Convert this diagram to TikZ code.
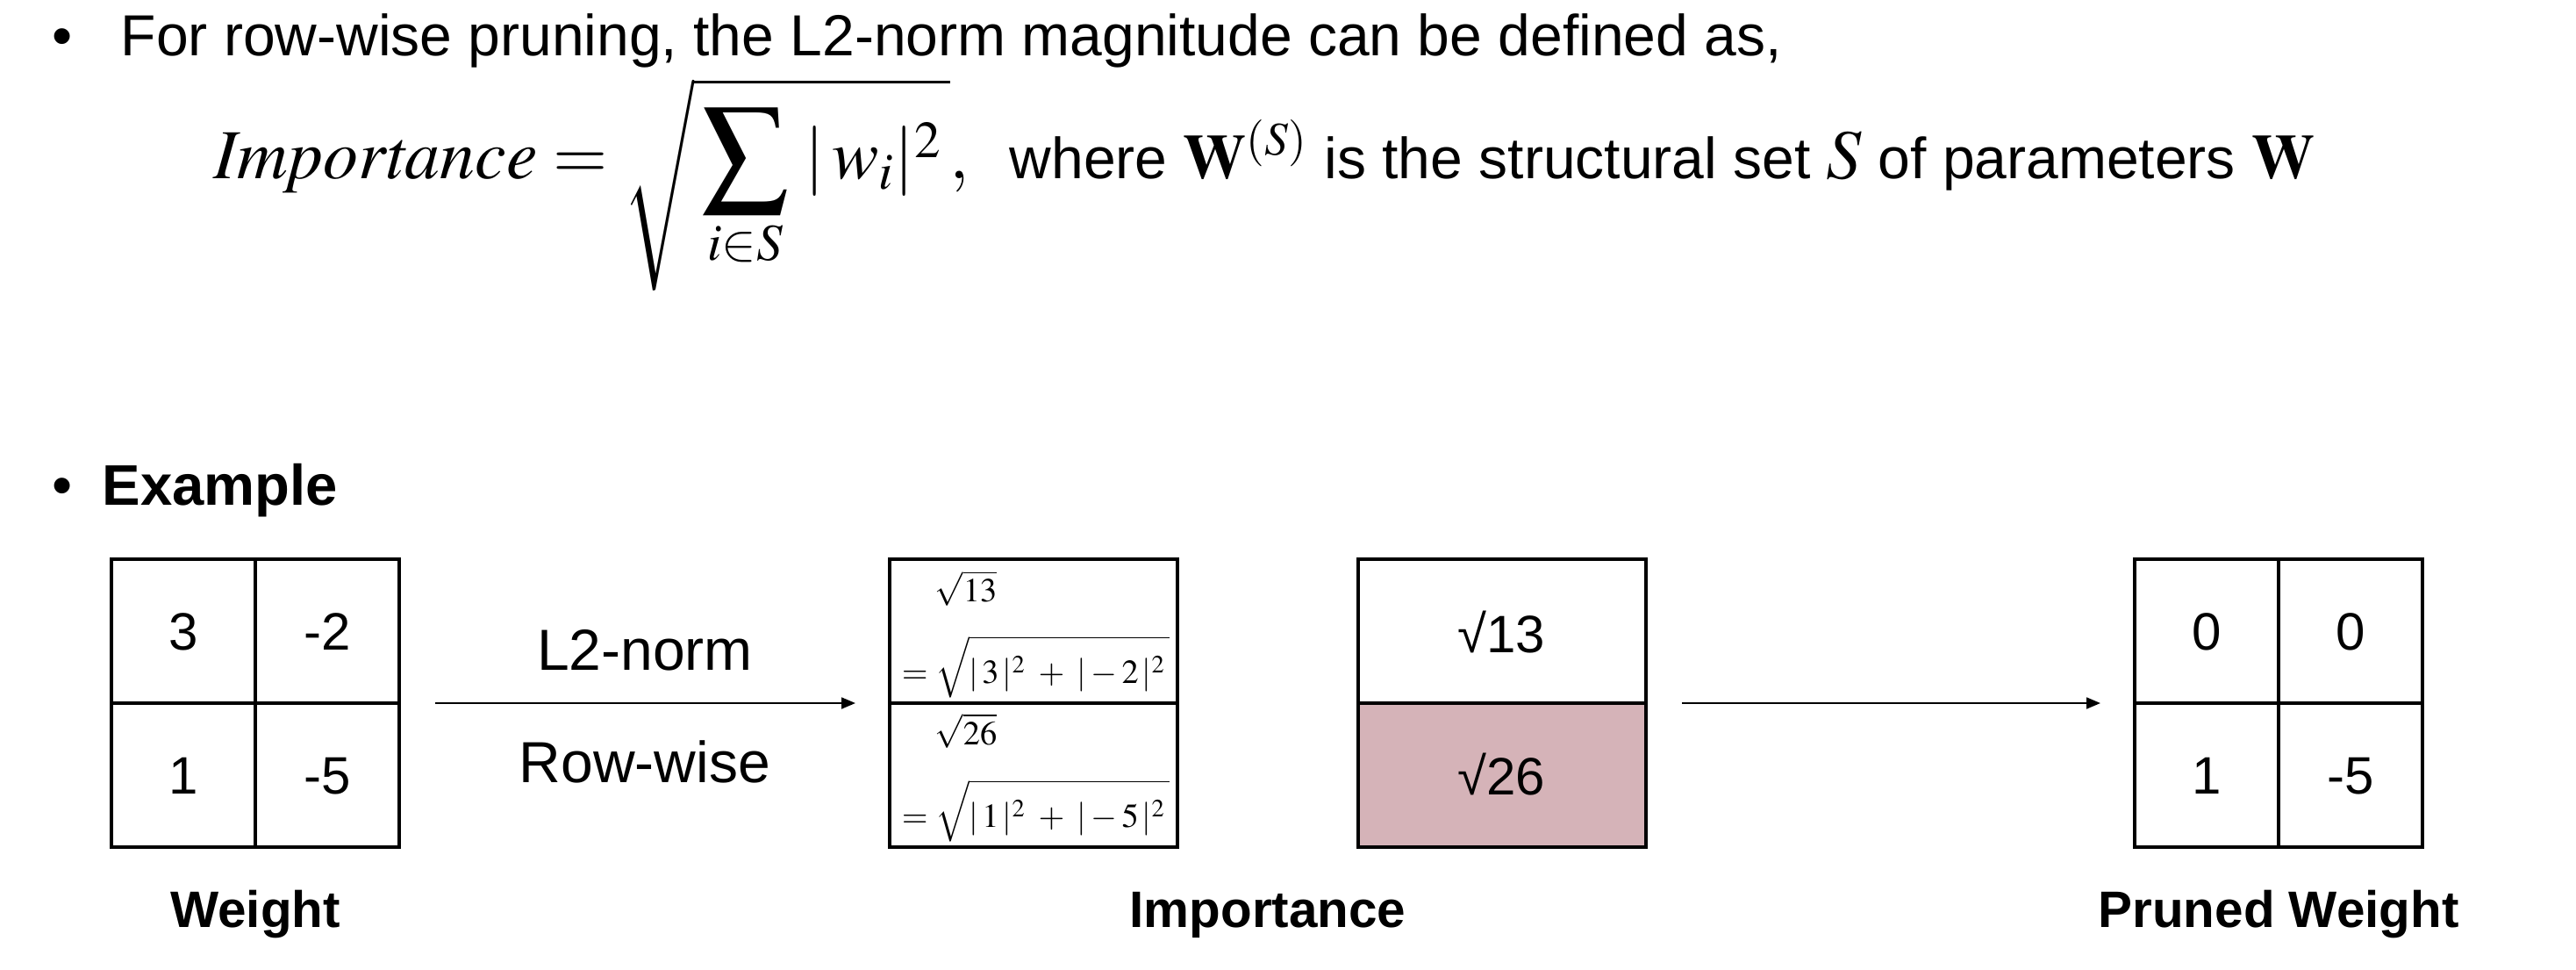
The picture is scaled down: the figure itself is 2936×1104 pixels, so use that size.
\documentclass[tikz,border=0pt]{standalone}
\usepackage{graphicx}
\usepackage{mathptmx}
\usepackage[no-math]{fontspec}
\setmainfont{Liberation Sans}
\usetikzlibrary{arrows.meta,backgrounds}
\definecolor{prunefill}{RGB}{213,179,184}
\begin{document}
\begin{tikzpicture}[x=0.25pt,y=-0.25pt,
  box/.style={draw=black,line width=1pt,minimum width=82pt,minimum height=82pt,inner sep=0pt,outer sep=0pt},
  cell/.style={font=\fontsize{15}{18}\selectfont,inner sep=0pt},
  lbl/.style={font=\fontsize{14.6}{18}\bfseries\selectfont,inner sep=0pt,anchor=base},
  body/.style={font=\fontsize{16.5}{20}\selectfont,inner sep=0pt,anchor=base west},
  small/.style={font=\fontsize{9.6}{11}\selectfont,inner sep=0pt},
  arr/.style={line width=0.6pt,-{Triangle[length=4pt,width=3.2pt]}}]
\useasboundingbox (0,0) rectangle (2936,1104);

% bullets and text
\node[body,anchor=base] (b1) at (71,63) {\fontsize{16.5}{18}\selectfont•};
\node[body] (t1) at (137,63) {For row-wise pruning, the L2-norm magnitude can be defined as,};
\node[inner sep=0pt,anchor=base west] (eq) at (243,203)
  {\fontsize{20}{24}\selectfont $\displaystyle \mathit{Importance}=\sqrt{\rule[-32pt]{0pt}{56pt}\mathop{\vcenter{\hbox{\scalebox{1.22}{$\displaystyle\sum$}}}}\limits_{i\in S}\,|\,w_i|^{2}\,},$};
\node[inner sep=0pt,anchor=base west] (eq2) at (1150,203)
  {\fontsize{16.5}{20}\selectfont where {\fontsize{18}{22}\selectfont$\mathbf{W}^{(S)}$} is the structural set {\fontsize{20}{24}\selectfont$S$} of parameters {\fontsize{18}{22}\selectfont$\mathbf{W}$}};
\node[body,anchor=base] (b2) at (71,575) {\fontsize{16.5}{18}\selectfont•};
\node[body,font=\fontsize{16.3}{20}\bfseries\selectfont] (ex) at (116,575) {Example};

% Weight grid
\node[box] (W) at (291,801) {};
\draw[line width=1pt] (W.north) -- (W.south) (W.west) -- (W.east);
\node[cell] (w11) at (209,720) {3};
\node[cell] (w12) at (373,720) {-2};
\node[cell] (w21) at (209,884) {1};
\node[cell] (w22) at (373,884) {-5};
\node[lbl] (Wl) at (291,1056) {Weight};

% Importance box 1
\node[box] (I1) at (1178,801) {};
\draw[line width=1pt] (I1.west) -- (I1.east);
\node[small,anchor=base] (s13) at (1101,685) {$\sqrt{13}$};
\node[small,anchor=base west] (f13) at (1027,778) {$=\sqrt{\rule[-3.5pt]{0pt}{15pt}|\,3\,|^{2}\;+\;|-2\,|^{2}\,}$};
\node[small,anchor=base] (s26) at (1101,848) {$\sqrt{26}$};
\node[small,anchor=base west] (f26) at (1027,942) {$=\sqrt{\rule[-3.5pt]{0pt}{15pt}|\,1\,|^{2}\;+\;|-5\,|^{2}\,}$};

% Importance box 2
\node[box] (I2) at (1712,801) {};
\begin{scope}[on background layer]
\fill[prunefill] (I2.west) rectangle (I2.south east);
\end{scope}
\draw[line width=1pt] (I2.west) -- (I2.east);
\node[cell,anchor=base] (r13) at (1711,743) {√13};
\node[cell,anchor=base] (r26) at (1711,905) {√26};
\node[lbl] (Il) at (1445,1056) {Importance};

% Pruned grid
\node[box] (P) at (2597,801) {};
\draw[line width=1pt] (P.north) -- (P.south) (P.west) -- (P.east);
\node[cell] (p11) at (2515,720) {0};
\node[cell] (p12) at (2679,720) {0};
\node[cell] (p21) at (2515,884) {1};
\node[cell] (p22) at (2679,884) {-5};
\node[lbl] (Pl) at (2597,1056) {Pruned Weight};

% arrows
\draw[arr] ([xshift=10.25pt]W.east) -- ([xshift=-9.75pt]I1.west);
\node[body,anchor=base] (l2) at (735,763) {L2-norm};
\node[body,anchor=base] (rw) at (735,891) {Row-wise};
\draw[arr] ([xshift=10.25pt]I2.east) -- ([xshift=-9.75pt]P.west);
\end{tikzpicture}
\end{document}
